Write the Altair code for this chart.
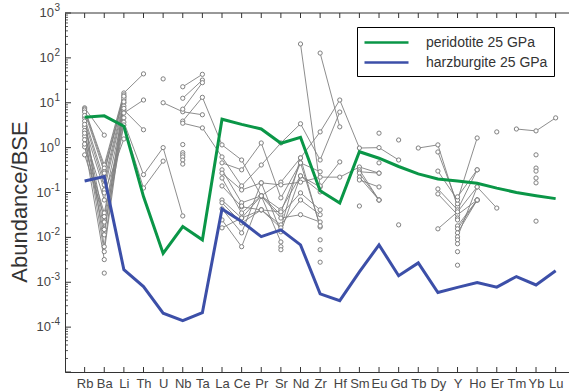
import json
import altair as alt
import pandas as pd

elements = ["Rb", "Ba", "Li", "Th", "U", "Nb", "Ta", "La", "Ce", "Pr", "Sr", "Nd", "Zr",
            "Hf", "Sm", "Eu", "Gd", "Tb", "Dy", "Y", "Ho", "Er", "Tm", "Yb", "Lu"]

# model melts, normalised to bulk silicate Earth
peridotite = [4.75, 5.1, 3.0, 0.081, 0.0044, 0.0174, 0.0088, 4.3, 3.3, 2.6, 1.25, 1.7, 0.11,
              0.058, 0.81, 0.58, 0.38, 0.26, 0.20, 0.18, 0.16, 0.125, 0.10, 0.085, 0.073]
harzburgite = [0.18, 0.226, 0.0019, 0.0008, 0.000204, 0.00014, 0.00021, 0.043, 0.0225, 0.0104,
               0.0147, 0.0068, 0.00055, 0.00039, 0.0017, 0.0068, 0.0014, 0.0027, 0.00059,
               0.00077, 0.00099, 0.00078, 0.00134, 0.00087, 0.0018]

# inclusion analyses: first element of each run, then consecutive abundances
inclusions = [
    ("Rb", [7.7, 1.9]),
    ("Rb", [7.3, 0.41, 16.5, 44]),
    ("Rb", [6.9, 0.35, 15]),
    ("Rb", [6.2, 0.29, 13.5]),
    ("Rb", [4.6, 0.19, 11.5]),
    ("Rb", [3.9, 0.148, 9.9]),
    ("Rb", [2.9, 0.114, 8.5]),
    ("Rb", [1.8, 0.068, 6.9, 2.5]),
    ("Rb", [1.04, 0.035, 5.9, 11.5]),
    ("Rb", [0.69, 0.029, 4.6]),
    ("Rb", [3.3, 0.022, 3.7, 0.25, 1.0, 0.03]),
    ("Rb", [2.4, 0.015, 3.2, 0.126, 0.5]),
    ("Rb", [1.5, 0.0114, 12.5]),
    ("Rb", [5.2, 0.0062, 10.5]),
    ("Rb", [2.1, 0.0048, 7.5]),
    ("Rb", [1.2, 0.0032]),
    ("Ba", [0.0016]),
    ("Ba", [0.098, 1.56]),
    ("Ba", [0.27, 14]),
    ("U", [34]),
    ("Nb", [22.7, 43]),
    ("Nb", [12.6, 32]),
    ("U", [10, 6.3, 5.4]),
    ("Nb", [7.2, 28]),
    ("Nb", [3.9, 13.2, 1.15, 0.53, 0.084, 0.17, 0.59, 2.24, 11.5, 0.98, 1.0, 0.53]),
    ("Nb", [3.5, 2.75, 0.62, 0.14, 0.41, 1.27, 3.4, 0.53, 6.2]),
    ("Nb", [1.17]), ("Nb", [0.77]), ("Nb", [0.69]), ("Nb", [0.62]), ("Nb", [0.53]), ("Nb", [0.43]),
    ("La", [0.457, 0.32, 1.27, 0.076, 0.457, 0.29]),
    ("La", [0.32, 0.059, 0.084, 0.041, 0.234, 0.133, 0.48]),
    ("La", [0.27, 0.114, 0.164, 0.148, 0.17, 0.22, 0.22, 0.37, 0.27]),
    ("La", [0.21, 0.035, 0.084, 0.032, 0.098, 0.041]),
    ("La", [0.14, 0.048, 0.041, 0.019, 0.068, 0.032]),
    ("La", [0.068, 0.027, 0.084, 0.027, 0.032, 0.022]),
    ("La", [0.059, 0.021, 0.041, 0.0163, 0.59, 0.017]),
    ("La", [0.043, 0.0126, 0.164, 0.0133, 0.234, 0.103]),
    ("La", [0.0245, 0.0062, 0.084, 0.0079]),
    ("La", [0.0163, 0.027, 0.041, 0.037, 0.457, 0.018]),
    ("Ce", [0.05]),
    ("Sr", [0.0062]), ("Sr", [0.0053]),
    ("Nd", [204, 0.14]),
    ("Zr", [128, 2.9]),
    ("Zr", [0.0088]), ("Zr", [0.0053]), ("Zr", [0.0028]),
    ("Sm", [0.32, 0.068]),
    ("Sm", [0.29, 0.27]),
    ("Sm", [0.27, 0.068]),
    ("Sm", [0.22, 0.068]),
    ("Sm", [0.19, 0.133]),
    ("Sm", [0.050]),
    ("Eu", [2.1]), ("Eu", [0.457]),
    ("Gd", [1.48]), ("Gd", [0.019]),
    ("Tb", [0.98, 1.15, 0.048]),
    ("Dy", [0.80, 0.056]),
    ("Dy", [0.30, 0.068, 1.64]),
    ("Dy", [0.12, 0.041, 0.32]),
    ("Dy", [0.093, 0.032, 0.068]),
    ("Dy", [0.0155, 0.037, 0.133, 0.045]),
    ("Y", [0.080, 0.32]),
    ("Y", [0.018, 0.068]),
    ("Y", [0.0155, 0.068]),
    ("Y", [0.0126, 0.068]),
    ("Y", [0.0103, 0.133]),
    ("Y", [0.0088]), ("Y", [0.0072]), ("Y", [0.0048]), ("Y", [0.0024]),
    ("Y", [0.027]), ("Y", [0.0245]),
    ("Er", [2.24]),
    ("Tm", [2.6, 2.36, 4.6]),
    ("Yb", [0.69]), ("Yb", [0.35]), ("Yb", [0.30]), ("Yb", [0.21]), ("Yb", [0.164]), ("Yb", [0.023]),
]

model_names = ["peridotite 25 GPa", "harzburgite 25 GPa"]
model_colors = ["#0a9647", "#3c4fa8"]

FONT = "Liberation Sans"
AXIS = "#333333"
GRAY = "#808080"

rows = []
for sid, (start, vals) in enumerate(inclusions):
    p0 = elements.index(start) + 1
    for j, v in enumerate(vals):
        rows.append({"sample": sid, "pos": p0 + j, "value": v})
inc_df = pd.DataFrame(rows)

model_rows = []
for name, series in zip(model_names, [peridotite, harzburgite]):
    for i, v in enumerate(series):
        model_rows.append({"model": name, "pos": i + 1, "value": v})
model_df = pd.DataFrame(model_rows)

pos_df = pd.DataFrame({"pos": list(range(1, len(elements) + 1))})
major = [10.0 ** k for k in range(-5, 4)]
minor = [m * 10.0 ** k for k in range(-5, 3) for m in range(2, 10)]
major_df = pd.DataFrame({"value": major})
minor_df = pd.DataFrame({"value": minor})
ylab_df = pd.DataFrame({"value": major, "exp": [str(k) for k in range(-5, 4)],
                        "neg": [k < 0 for k in range(-5, 4)]})
ylab_df = ylab_df[ylab_df["value"] > 1e-5]

W, H = 504, 359
xscale = alt.Scale(domain=[0, 25.68], nice=False, zero=False)
yscale = alt.Scale(type="log", domain=[1e-5, 1e3], nice=False)

label_expr = json.dumps(elements) + "[datum.value - 1]"

x_axis = alt.Axis(
    values=list(range(1, len(elements) + 1)), labelExpr=label_expr, ticks=False, grid=False,
    domainColor=AXIS, labelFontSize=13, labelFont=FONT, labelColor="#444444", labelPadding=5,
    labelFlush=False, labelOverlap=False, title=None)
y_axis = alt.Axis(
    labels=False, ticks=False, grid=False, domainColor=AXIS, title="Abundance/BSE",
    titleFontSize=22, titleFont=FONT, titleFontWeight="normal", titleColor="#333333",
    titleX=-46, titleY=H / 2 + 9, titleAngle=-90, titleAlign="center", titleBaseline="middle")

x = alt.X("pos:Q", scale=xscale, axis=x_axis)
y = alt.Y("value:Q", scale=yscale, axis=y_axis)

gray_lines = alt.Chart(inc_df).mark_line(color=GRAY, strokeWidth=0.9).encode(
    x=x, y=y, detail="sample:N", order="pos:Q")
gray_points = alt.Chart(inc_df).mark_point(
    shape="circle", filled=True, fill="white", stroke=GRAY, strokeWidth=1, size=18, opacity=1
).encode(x=x, y=y)

# legend symbol: a long flat stroke in a compact row
models = alt.Chart(model_df).mark_line(strokeWidth=3).encode(
    x=x, y=y, order="pos:Q",
    color=alt.Color("model:N", scale=alt.Scale(domain=model_names, range=model_colors),
                    legend=alt.Legend(title=None, orient="none", legendX=292, legendY=14,
                                      symbolType="M-2.75,0H2.75", symbolStrokeWidth=2.5,
                                      symbolSize=256, symbolOffset=14,
                                      labelFontSize=14, labelFont=FONT,
                                      labelColor="#333333", strokeColor="black",
                                      fillColor="white", padding=6, rowPadding=3,
                                      labelOffset=30, labelLimit=0)))

# frame ticks (inside) at each element, top and bottom
bottom_ticks = alt.Chart(pos_df).mark_rule(color=AXIS, strokeWidth=1).encode(
    x=x, y=alt.value(H), y2=alt.value(H - 5))
top_ticks = alt.Chart(pos_df).mark_rule(color=AXIS, strokeWidth=1).encode(
    x=x, y=alt.value(0), y2=alt.value(5))
top_border = alt.Chart(pos_df.head(1)).mark_rule(color=AXIS, strokeWidth=1).encode(
    x=alt.value(0), x2=alt.value(W), y=alt.value(0))

major_ticks = alt.Chart(major_df).mark_rule(color=AXIS, strokeWidth=1).encode(
    y=y, x=alt.value(0), x2=alt.value(6))
minor_ticks = alt.Chart(minor_df).mark_rule(color=AXIS, strokeWidth=0.8).encode(
    y=y, x=alt.value(0), x2=alt.value(3))

exp_text = alt.Chart(ylab_df).mark_text(
    align="right", baseline="middle", fontSize=10, dy=-5, font=FONT, color="#444444"
).encode(y=y, x=alt.value(-5), text="exp:N")
base_pos = alt.Chart(ylab_df).transform_filter("!datum.neg").mark_text(
    align="right", baseline="middle", fontSize=13, font=FONT, color="#444444", text="10"
).encode(y=y, x=alt.value(-11))
base_neg = alt.Chart(ylab_df).transform_filter("datum.neg").mark_text(
    align="right", baseline="middle", fontSize=13, font=FONT, color="#444444", text="10"
).encode(y=y, x=alt.value(-14))

chart = alt.layer(
    gray_lines, gray_points, models, bottom_ticks, top_ticks, top_border,
    major_ticks, minor_ticks, exp_text, base_pos, base_neg
).properties(
    width=W, height=H,
    padding={"left": 65, "top": 13, "right": 0, "bottom": 20},
    autosize=alt.AutoSizeParams(type="none"),
    background="white",
).configure_view(stroke=None).configure_axis(labelOverlap=False)

chart.save("out.html", embed_options={"renderer": "svg", "actions": False})
